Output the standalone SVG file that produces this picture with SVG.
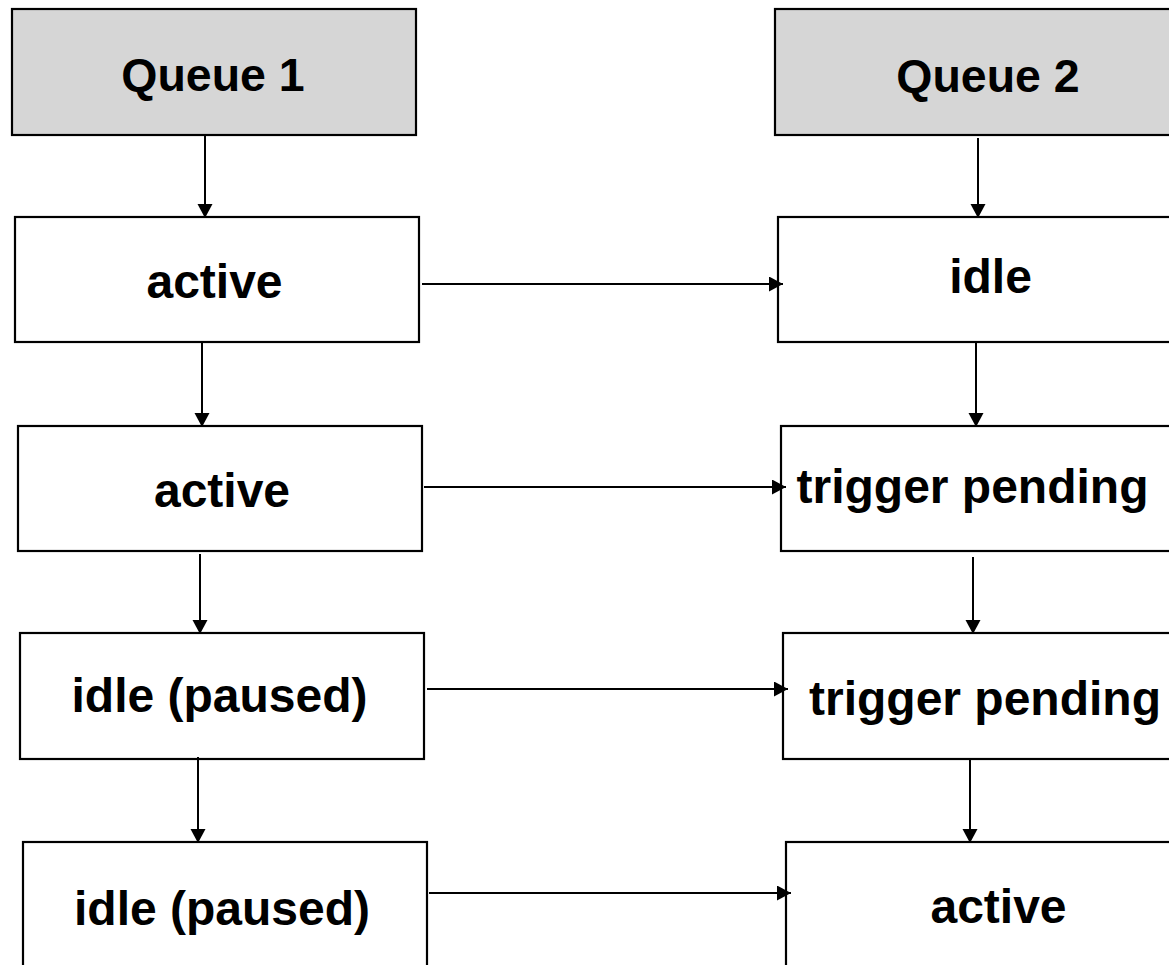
<svg xmlns="http://www.w3.org/2000/svg" width="1169" height="965" viewBox="0 0 1169 965">
<style>
.box{fill:#ffffff;stroke:#000;stroke-width:2.2}
.q{fill:#d6d6d6;stroke:#000;stroke-width:2.2}
.t{font-family:"Liberation Sans",Arial,sans-serif;font-weight:bold;font-size:48px;fill:#000;text-anchor:middle}
.tq{font-size:46.5px}
.c{stroke:#000;stroke-width:2;fill:none;marker-end:url(#ah)}
</style>
<defs>
<marker id="ah" markerUnits="userSpaceOnUse" markerWidth="16" markerHeight="16" refX="14" refY="7.5" orient="auto" viewBox="0 0 16 16">
<path d="M0,0 L14,7.5 L0,15 Z" fill="#000"/>
</marker>
</defs>
<rect width="1169" height="965" fill="#fff"/>
<g id="q1"><rect class="q" x="12" y="9" width="404" height="126"/><text class="t tq" x="213" y="91">Queue 1</text></g>
<g id="q2"><rect class="q" x="775" y="9" width="404" height="126"/><text class="t tq" x="988" y="92">Queue 2</text></g>
<g id="a1"><rect class="box" x="15" y="217" width="404" height="125"/><text class="t" x="214.5" y="298">active</text></g>
<g id="a2"><rect class="box" x="18" y="426" width="404" height="125"/><text class="t" x="222" y="507">active</text></g>
<g id="a3"><rect class="box" x="20" y="633" width="404" height="126"/><text class="t" x="219.5" y="712">idle (paused)</text></g>
<g id="a4"><rect class="box" x="23" y="842" width="404" height="126"/><text class="t" x="222" y="925">idle (paused)</text></g>
<g id="b1"><rect class="box" x="778" y="217" width="404" height="125"/><text class="t" x="990.5" y="293">idle</text></g>
<g id="b2"><rect class="box" x="781" y="426" width="404" height="125"/><text class="t" x="972.5" y="503">trigger pending</text></g>
<g id="b3"><rect class="box" x="783" y="633" width="404" height="126"/><text class="t" x="985" y="715">trigger pending</text></g>
<g id="b4"><rect class="box" x="786" y="842" width="404" height="126"/><text class="t" x="998.5" y="923">active</text></g>
<g id="connectors">
<line class="c" x1="205" y1="135" x2="205" y2="218"/>
<line class="c" x1="202" y1="341" x2="202" y2="427"/>
<line class="c" x1="200" y1="554" x2="200" y2="634"/>
<line class="c" x1="198" y1="757" x2="198" y2="843"/>
<line class="c" x1="978" y1="138" x2="978" y2="218"/>
<line class="c" x1="976" y1="342" x2="976" y2="427"/>
<line class="c" x1="973" y1="557" x2="973" y2="634"/>
<line class="c" x1="970" y1="759" x2="970" y2="843"/>
<line class="c" x1="422" y1="284" x2="783" y2="284"/>
<line class="c" x1="424" y1="487" x2="786" y2="487"/>
<line class="c" x1="427" y1="689" x2="788" y2="689"/>
<line class="c" x1="429" y1="893" x2="791" y2="893"/>
</g>
</svg>
